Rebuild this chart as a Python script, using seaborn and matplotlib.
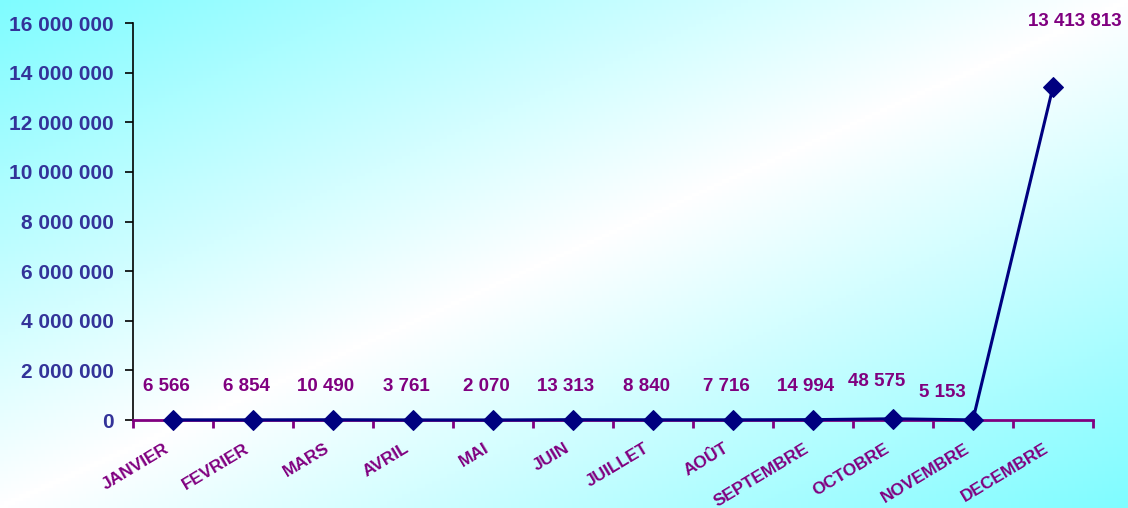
import numpy as np
import pandas as pd
import matplotlib.pyplot as plt
from matplotlib.colors import LinearSegmentedColormap
from matplotlib.transforms import ScaledTranslation
import seaborn as sns

# Monthly values
months = ["JANVIER", "FEVRIER", "MARS", "AVRIL", "MAI", "JUIN",
          "JUILLET", "AOÛT", "SEPTEMBRE", "OCTOBRE", "NOVEMBRE", "DECEMBRE"]
values = [6566, 6854, 10490, 3761, 2070, 13313,
          8840, 7716, 14994, 48575, 5153, 13413813]
y_ticks = [0, 2000000, 4000000, 6000000, 8000000, 10000000,
           12000000, 14000000, 16000000]

df = pd.DataFrame({"mois": months, "valeur": values})

sns.set_theme(style="white")
plt.rcParams["font.family"] = ["Liberation Sans", "DejaVu Sans"]
plt.rcParams["font.weight"] = "bold"

PURPLE = "#800080"
NAVY = "#000080"
BLUE_TXT = "#333399"


def fmt(v):
    return f"{v:,}".replace(",", " ")


fig = plt.figure(figsize=(11.28, 5.08), dpi=100)

# diagonal gradient background: cyan corners, white across the middle
bg = fig.add_axes([0, 0, 1, 1], zorder=-10)
gx, gy = np.meshgrid(np.linspace(0, 1, 300), np.linspace(0, 1, 150))
t = 1 - np.abs(gx + gy - 1)
cmap = LinearSegmentedColormap.from_list("bg", ["#7ffcff", "#ffffff"])
bg.imshow(t, cmap=cmap, aspect="auto", extent=[0, 1, 1, 0], vmin=0, vmax=1)
bg.axis("off")

ax = fig.add_axes([0.1179, 0.1732, 0.851, 0.7815])
ax.patch.set_alpha(0)

sns.lineplot(data=df, x="mois", y="valeur", ax=ax, sort=False,
             color=NAVY, linewidth=2.2, marker="D", markersize=10,
             markeredgecolor=NAVY, markerfacecolor=NAVY, zorder=5, clip_on=False)

ax.set_xlim(-0.5, len(months) - 0.5)
ax.set_ylim(0, 16000000)
ax.set_yticks(y_ticks)
ax.set_yticklabels([fmt(v) for v in y_ticks], color=BLUE_TXT,
                   fontsize=15, fontweight="bold")

ax.set_xticks(range(len(months)))
ax.set_xticklabels(months, rotation=31, ha="right", rotation_mode="anchor",
                   color=PURPLE, fontsize=12.5, fontweight="bold")
ax.set_xticks(np.arange(-0.5, len(months)), minor=True)
ax.tick_params(axis="x", which="major", length=0, pad=15)
ax.tick_params(axis="x", which="minor", length=6, width=2, color=PURPLE,
               direction="out", bottom=True)
ax.tick_params(axis="y", length=6, width=1.2, color="black",
               direction="out", left=True, pad=8)
shift = ScaledTranslation(-9 / 100, 0, fig.dpi_scale_trans)
for lab in ax.get_xticklabels():
    lab.set_transform(lab.get_transform() + shift)

ax.set_xlabel("")
ax.set_ylabel("")
for s in ["top", "right"]:
    ax.spines[s].set_visible(False)
ax.spines["left"].set_color("black")
ax.spines["left"].set_linewidth(1.2)
ax.spines["bottom"].set_color(PURPLE)
ax.spines["bottom"].set_linewidth(2)

# data labels
imax = int(np.argmax(values))
for i, v in enumerate(values):
    if i == imax:
        off = (16, 47)
    elif i == imax - 1:
        # keep clear of the steep rise towards the peak
        off = (-22, 20)
    elif i == imax - 2:
        off = (-12, 27)
    else:
        off = (-5, 24)
    ax.annotate(fmt(v), (i, v), xytext=off, textcoords="offset points",
                ha="center", va="center", color=PURPLE,
                fontsize=13.5, fontweight="bold", annotation_clip=False)

fig.savefig("out.png", dpi=100)
